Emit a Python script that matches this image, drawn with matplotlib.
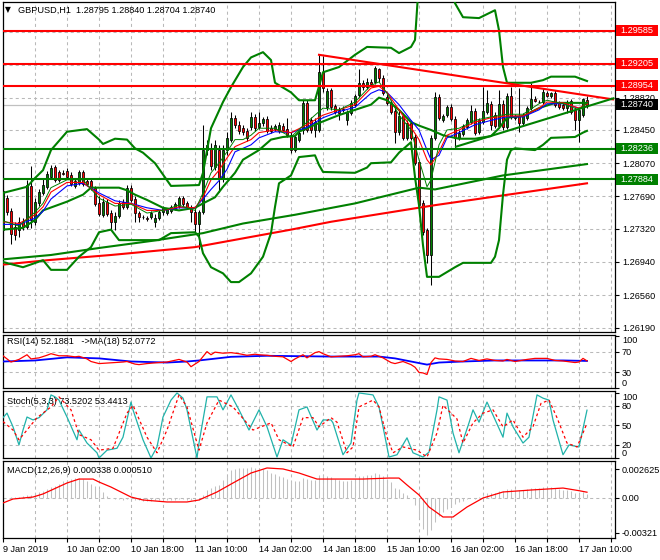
import matplotlib
matplotlib.use("Agg")
import matplotlib.pyplot as plt
import matplotlib.transforms as mtransforms
from matplotlib.patches import Rectangle

plt.rcParams['font.family'] = ['Liberation Sans', 'DejaVu Sans']
plt.rcParams['font.size'] = 6.6
plt.rcParams['lines.scale_dashes'] = False

# ---- GBPUSD H1 candles (bar index 0 = 9 Jan 10:00) ----
opens = [
    1.2731, 1.2767, 1.2752, 1.2734, 1.2731, 1.2740, 1.2734, 1.2781, 1.2740, 1.2761,
    1.2773, 1.2780, 1.2791, 1.2803, 1.2797, 1.2796, 1.2798, 1.2793, 1.2781, 1.2784,
    1.2797, 1.2787, 1.2787, 1.2779, 1.2761, 1.2748, 1.2763, 1.2750, 1.2740, 1.2747,
    1.2763, 1.2757, 1.2779, 1.2766, 1.2750, 1.2746, 1.2744, 1.2745, 1.2740, 1.2744,
    1.2751, 1.2750, 1.2752, 1.2756, 1.2758, 1.2767, 1.2761, 1.2757, 1.2751, 1.2737,
    1.2751, 1.2822, 1.2824, 1.2803, 1.2822, 1.2790, 1.2822, 1.2834, 1.2859, 1.2851,
    1.2847, 1.2844, 1.2848, 1.2860, 1.2848, 1.2853, 1.2858, 1.2847, 1.2846, 1.2844,
    1.2850, 1.2846, 1.2839, 1.2822, 1.2834, 1.2845, 1.2876, 1.2856, 1.2845, 1.2845,
    1.2911, 1.2871, 1.2891, 1.2872, 1.2868, 1.2869, 1.2856, 1.2864, 1.2874, 1.2885,
    1.2899, 1.2894, 1.2900, 1.2900, 1.2915, 1.2904, 1.2883, 1.2876, 1.2867, 1.2843,
    1.2861, 1.2836, 1.2853, 1.2837, 1.2808, 1.2761, 1.2731, 1.2702, 1.2836, 1.2883,
    1.2856, 1.2862, 1.2871, 1.2858, 1.2836, 1.2840, 1.2848, 1.2854, 1.2867, 1.2843,
    1.2854, 1.2866, 1.2875, 1.2862, 1.2850, 1.2875, 1.2848, 1.2884, 1.2859, 1.2861,
    1.2853, 1.2859, 1.2870, 1.2880, 1.2877, 1.2877, 1.2887, 1.2884, 1.2887, 1.2876,
    1.2874, 1.2870, 1.2878, 1.2868, 1.2856, 1.2862, 1.28795,
]
highs = [
    1.2781, 1.2771, 1.2756, 1.2740, 1.2745, 1.2744, 1.2788, 1.2804, 1.2767, 1.2777,
    1.2790, 1.2798, 1.2805, 1.2805, 1.2799, 1.2799, 1.2802, 1.2797, 1.2790, 1.2799,
    1.2799, 1.2790, 1.2789, 1.2781, 1.2769, 1.2767, 1.2766, 1.2753, 1.2751, 1.2765,
    1.2766, 1.2782, 1.2782, 1.2769, 1.2752, 1.2748, 1.2747, 1.2752, 1.2749, 1.2753,
    1.2758, 1.2756, 1.2759, 1.2763, 1.2769, 1.2769, 1.2764, 1.2759, 1.2756, 1.2753,
    1.2851, 1.2834, 1.2830, 1.2834, 1.2828, 1.2828, 1.2843, 1.2866, 1.2862, 1.2855,
    1.2851, 1.2847, 1.2866, 1.2863, 1.2866, 1.2860, 1.2861, 1.2851, 1.2852, 1.2854,
    1.2853, 1.2859, 1.2843, 1.2839, 1.2845, 1.2879, 1.2879, 1.2860, 1.2859, 1.2931,
    1.2930, 1.2893, 1.2893, 1.2875, 1.2871, 1.2872, 1.2868, 1.2879, 1.2886, 1.2915,
    1.2902, 1.2904, 1.2903, 1.2918, 1.2916, 1.2908, 1.2886, 1.2879, 1.2870, 1.2868,
    1.2864, 1.2856, 1.2856, 1.2840, 1.2811, 1.2765, 1.2733, 1.2839, 1.2888, 1.2886,
    1.2863, 1.2874, 1.2875, 1.2861, 1.2845, 1.2852, 1.2859, 1.2874, 1.2870, 1.2859,
    1.2894, 1.2891, 1.2878, 1.2866, 1.2891, 1.2879, 1.2887, 1.2894, 1.2863, 1.2893,
    1.2864, 1.2872, 1.2899, 1.2884, 1.2879, 1.2893, 1.2890, 1.2888, 1.2891, 1.2878,
    1.2876, 1.2879, 1.2880, 1.2871, 1.2870, 1.2882, 1.28840,
]
lows = [
    1.2721, 1.2748, 1.2715, 1.2719, 1.2723, 1.2731, 1.2732, 1.2733, 1.2736, 1.2758,
    1.2771, 1.2777, 1.2789, 1.2785, 1.2785, 1.2793, 1.2789, 1.2781, 1.2779, 1.2782,
    1.2781, 1.2781, 1.2776, 1.2758, 1.2747, 1.2745, 1.2747, 1.2731, 1.2731, 1.2744,
    1.2755, 1.2755, 1.2763, 1.2740, 1.2740, 1.2743, 1.2741, 1.2743, 1.2734, 1.2742,
    1.2748, 1.2748, 1.2750, 1.2753, 1.2756, 1.2758, 1.2755, 1.2740, 1.2728, 1.2709,
    1.2749, 1.2816, 1.2799, 1.2799, 1.2774, 1.2785, 1.2816, 1.2831, 1.2847, 1.2840,
    1.2839, 1.2832, 1.2845, 1.2844, 1.2846, 1.2850, 1.2842, 1.2842, 1.2844, 1.2842,
    1.2843, 1.2837, 1.2819, 1.2820, 1.2831, 1.2840, 1.2843, 1.2842, 1.2837, 1.2843,
    1.2888, 1.2868, 1.2868, 1.2863, 1.2856, 1.2866, 1.2851, 1.2862, 1.2871, 1.2883,
    1.2891, 1.2892, 1.2895, 1.2898, 1.2900, 1.2885, 1.2874, 1.2863, 1.2830, 1.2839,
    1.2834, 1.2834, 1.2834, 1.2805, 1.2757, 1.2725, 1.2693, 1.2668, 1.2834, 1.2856,
    1.2854, 1.2860, 1.2855, 1.2824, 1.2834, 1.2838, 1.2846, 1.2852, 1.2839, 1.2840,
    1.2852, 1.2863, 1.2845, 1.2847, 1.2847, 1.2845, 1.2846, 1.2858, 1.2856, 1.2843,
    1.2850, 1.2856, 1.2868, 1.2877, 1.2876, 1.2875, 1.2883, 1.2882, 1.2871, 1.2869,
    1.2868, 1.2864, 1.2863, 1.2845, 1.2831, 1.2860, 1.28704,
]
closes = [
    1.2775, 1.2751, 1.2726, 1.2725, 1.2740, 1.2734, 1.2782, 1.2742, 1.2763, 1.2774,
    1.2782, 1.2795, 1.2802, 1.2788, 1.2788, 1.2795, 1.2791, 1.2783, 1.2787, 1.2797,
    1.2783, 1.2783, 1.2779, 1.2760, 1.2749, 1.2763, 1.2749, 1.2740, 1.2747, 1.2761,
    1.2757, 1.2779, 1.2765, 1.2750, 1.2745, 1.2745, 1.2743, 1.2750, 1.2744, 1.2751,
    1.2756, 1.2755, 1.2757, 1.2760, 1.2767, 1.2760, 1.2757, 1.2751, 1.2737, 1.2751,
    1.2822, 1.2828, 1.2804, 1.2828, 1.2790, 1.2822, 1.2836, 1.2859, 1.2851, 1.2844,
    1.2843, 1.2836, 1.2860, 1.2847, 1.2853, 1.2858, 1.2844, 1.2844, 1.2850, 1.2851,
    1.2845, 1.2839, 1.2822, 1.2837, 1.2842, 1.2876, 1.2845, 1.2845, 1.2854, 1.2911,
    1.2893, 1.2890, 1.2871, 1.2866, 1.2864, 1.2868, 1.2866, 1.2876, 1.2884, 1.2899,
    1.2894, 1.2900, 1.2898, 1.2916, 1.2904, 1.2887, 1.2876, 1.2866, 1.2843, 1.2861,
    1.2836, 1.2853, 1.2836, 1.2807, 1.2759, 1.2728, 1.2702, 1.2836, 1.2883, 1.2859,
    1.2861, 1.2871, 1.2858, 1.2836, 1.2842, 1.2850, 1.2856, 1.2867, 1.2842, 1.2856,
    1.2867, 1.2876, 1.2851, 1.2850, 1.2875, 1.2848, 1.2884, 1.2860, 1.2861, 1.2853,
    1.2861, 1.2870, 1.2880, 1.2878, 1.2877, 1.2888, 1.2884, 1.2887, 1.2874, 1.2871,
    1.2870, 1.2877, 1.2866, 1.2856, 1.2868, 1.2880, 1.28740,
]

# ---- Bollinger bands ----
bb_up_bars = [0, 6, 8, 10, 12, 16, 21, 24, 25, 28, 31, 33, 35, 38, 42, 49, 50, 52, 55, 57,
              60, 62, 65, 67, 68, 72, 74, 78, 80, 84, 88, 91, 97, 99, 102, 103, 104, 112,
              113, 115, 119, 123, 124, 125, 126, 132, 135, 137, 143, 146]
bb_up = [1.2773, 1.2780, 1.2790, 1.2799, 1.2822, 1.2843, 1.2846, 1.2834, 1.2829, 1.2835,
         1.2834, 1.2824, 1.2819, 1.2807, 1.2781, 1.2782, 1.2796, 1.2847, 1.2877, 1.2894,
         1.2917, 1.2928, 1.2934, 1.2925, 1.2899, 1.2888, 1.2879, 1.2879, 1.2911, 1.2917,
         1.2931, 1.2940, 1.2939, 1.2933, 1.2940, 1.2948, 1.3017, 1.3017,
         1.2990, 1.2974, 1.2973, 1.2982, 1.2959, 1.2917, 1.2899, 1.2899, 1.2902, 1.2906,
         1.2906, 1.2901]
bb_lo_bars = [0, 5, 10, 12, 16, 19, 22, 24, 27, 29, 39, 42, 48, 49, 50, 52, 55, 57, 59, 62,
              65, 67, 68, 69, 72, 74, 78, 79, 80, 88, 91, 92, 97, 99, 102, 103, 104, 105,
              106, 109, 113, 115, 122, 123, 124, 125, 126, 127, 128, 133, 135, 137, 143,
              145, 146]
bb_lo = [1.2694, 1.2688, 1.2696, 1.2685, 1.2685, 1.2700, 1.2711, 1.2728, 1.2731, 1.2719,
         1.2719, 1.2727, 1.2728, 1.2723, 1.2704, 1.2688, 1.2681, 1.2671, 1.2671, 1.2681,
         1.2700, 1.2727, 1.2757, 1.2784, 1.2793, 1.2814, 1.2816, 1.2805, 1.2797, 1.2796,
         1.2802, 1.2807, 1.2808, 1.2819, 1.2831, 1.2791, 1.2759, 1.2713,
         1.2677, 1.2677, 1.2688, 1.2693, 1.2693, 1.2700, 1.2719, 1.2771, 1.2811, 1.2822,
         1.2824, 1.2822, 1.2828, 1.2836, 1.2837, 1.2842, 1.2844]
bb_mid_bars = [0, 5, 8, 10, 16, 20, 22, 29, 31, 33, 36, 40, 44, 48, 50, 53, 55, 58, 60, 64,
               67, 70, 73, 74, 79, 84, 88, 92, 94, 96, 99, 102, 104, 107, 110, 114, 118,
               122, 124, 126, 130, 134, 138, 142, 146]
bb_mid = [1.2731, 1.2733, 1.2742, 1.2753, 1.2763, 1.2771, 1.2779, 1.2779, 1.2776, 1.2771,
          1.2765, 1.2756, 1.2753, 1.2756, 1.2761, 1.2768, 1.2780, 1.2796, 1.2811, 1.2822,
          1.2834, 1.2837, 1.2838, 1.2843, 1.2853, 1.2862, 1.2868, 1.2874, 1.2882, 1.2879,
          1.2868, 1.2854, 1.2850, 1.2845, 1.2839, 1.2835, 1.2835,
          1.2838, 1.2847, 1.2859, 1.2861, 1.2870, 1.2876, 1.2876, 1.2876]

# ---- slow moving averages ----
ma_green_bars = [0, 12, 24, 37, 50, 60, 73, 88, 104, 108, 125, 146]
ma_green = [1.2697, 1.2702, 1.2710, 1.2718, 1.2727, 1.2738, 1.2748, 1.2761, 1.2779,
            1.2777, 1.2793, 1.2806]
ma_red_bars = [0, 11, 27, 48, 72, 82, 108, 146]
ma_red = [1.2691, 1.2696, 1.2702, 1.2711, 1.2731, 1.2740, 1.2759, 1.2784]

# ---- fast moving averages ----
fast_bars = [0, 4, 8, 10, 12, 16, 20, 24, 28, 32, 36, 40, 44, 48, 50, 52, 54, 56, 58, 60,
             62, 64, 68, 72, 76, 80, 84, 88, 92, 94, 96, 99, 102, 104, 106, 107, 109, 111,
             114, 118, 122, 126, 130, 134, 136, 140, 144, 146]
fast_red = [1.2740, 1.2738, 1.2748, 1.2757, 1.2774, 1.2785, 1.2785, 1.2771, 1.2761, 1.2761,
            1.2753, 1.2753, 1.2757, 1.2756, 1.2768, 1.2788, 1.2799, 1.2813, 1.2826, 1.2830,
            1.2834, 1.2842, 1.2845, 1.2842, 1.2851, 1.2862, 1.2868, 1.2874, 1.2893, 1.2895,
            1.2888, 1.2868, 1.2848, 1.2834, 1.2811, 1.2805, 1.2820, 1.2839,
            1.2845, 1.2854, 1.2859, 1.2861, 1.2861, 1.2870, 1.2877, 1.2876, 1.2870, 1.2875]
fast_blue = [1.2737, 1.2737, 1.2744, 1.2752, 1.2766, 1.2781, 1.2784, 1.2773, 1.2764, 1.2761,
             1.2756, 1.2753, 1.2756, 1.2756, 1.2766, 1.2777, 1.2787, 1.2800, 1.2820, 1.2824,
             1.2828, 1.2836, 1.2843, 1.2842, 1.2848, 1.2859, 1.2866, 1.2871, 1.2887, 1.2891,
             1.2888, 1.2874, 1.2856, 1.2845, 1.2822, 1.2811, 1.2816, 1.2836,
             1.2842, 1.2851, 1.2856, 1.2860, 1.2860, 1.2868, 1.2875, 1.2875, 1.2870, 1.2872]
fast_green = [1.2741, 1.2735, 1.2751, 1.2761, 1.2779, 1.2788, 1.2788, 1.2767, 1.2758, 1.2760,
              1.2750, 1.2753, 1.2759, 1.2753, 1.2773, 1.2796, 1.2807, 1.2820, 1.2834, 1.2834,
              1.2839, 1.2847, 1.2847, 1.2837, 1.2854, 1.2870, 1.2868, 1.2877, 1.2896, 1.2900,
              1.2887, 1.2862, 1.2845, 1.2811, 1.2780, 1.2788, 1.2828, 1.2845,
              1.2847, 1.2856, 1.2860, 1.2863, 1.2863, 1.2875, 1.2879, 1.2875, 1.2868, 1.2876]

# ---- chart objects ----
red_levels = [1.29585, 1.29205, 1.28954]
green_levels = [1.28236, 1.27884]
last_price = 1.28740
res_line_bars = [79, 152.5]
res_line = [1.2931, 1.2880]
sup_line_bars = [113.25, 152.6]
sup_line = [1.28259, 1.28812]
price_ticks = [1.26190, 1.26560, 1.26940, 1.27320, 1.27690, 1.28070, 1.28450, 1.28820,
               1.29190, 1.29570]
hidden_ticks = [1.29190, 1.29570]   # covered by the level boxes

# ---- RSI(14) and MA(18) ----
rsi_bars = [0, 2, 4, 6, 7, 9, 11, 12, 14, 16, 18, 19, 21, 22, 24, 26, 28, 30, 31, 33, 34,
            36, 39, 41, 44, 46, 47, 48, 49, 51, 52, 53, 55, 57, 59, 61, 63, 64, 66, 68, 70,
            72, 73, 75, 76, 78, 79, 80, 82, 84, 86, 88, 89, 90, 92, 93, 95, 97, 98, 100,
            101, 102, 103, 104, 105, 106, 107, 108, 109, 111, 113, 115, 117, 119, 121, 123,
            125, 126, 128, 131, 133, 136, 138, 140, 141, 143, 144, 145, 146]
rsi = [62, 50, 55, 64, 56, 58, 63, 66, 62, 62, 60, 61, 56, 51, 47, 48, 49, 50, 51, 46, 45,
       47, 49, 50, 55, 50, 41, 46, 51, 70, 64, 69, 67, 68, 66, 63, 65, 64, 63, 61, 60,
       51, 56, 64, 58, 68, 70, 66, 60, 61, 62, 64, 66, 60, 61, 64, 58, 49, 47, 51,
       48, 45, 40, 30, 29, 26, 49, 58, 56, 55, 52, 51, 57, 53, 56, 53,
       52, 55, 51, 55, 57, 57, 53, 52, 51, 49, 50, 57, 52.19]
rsi_ma_bars = [0, 8, 16, 24, 32, 41, 46, 49, 57, 66, 82, 94, 98, 102, 106, 109, 115, 123,
               131, 140, 146]
rsi_ma = [51, 53, 59, 57, 51, 49, 51, 53, 60, 62, 60.5, 60.5, 57, 51, 45, 49, 51, 53, 53,
          53, 52.08]

# ---- Stochastic(5,3,3) ----
k_bars = [0, 1, 2.5, 4, 5, 6, 7.5, 9, 11, 12, 13, 14, 16, 18.5, 19, 21, 23.5, 24, 26, 28.5,
          30, 32, 32.5, 35, 37, 38.5, 40, 42, 43.5, 45, 46, 48.5, 49, 51, 53.5, 55, 57, 59,
          61.5, 64, 66, 68.5, 70, 72, 74, 76, 78.5, 80, 82, 82.5, 85, 87, 88.5, 89, 92.5,
          94, 95, 96.5, 98.5, 101, 102.5, 105, 106.5, 108.5, 109, 111, 112.5, 114, 116.5,
          117.5, 119, 121, 122.5, 125, 126, 127.5, 130, 131.5, 133.5, 135, 136.5, 137.5,
          140, 141.5, 144, 146]
stoch_k = [62, 69, 48, 20, 43, 63, 58.5, 62, 74, 97, 94, 89, 63, 28, 43, 23, 8, 0, 12, 15,
           32, 86, 74, 28, 0, 17, 63, 89, 100, 92, 74, 0, 23, 94, 94, 74, 97, 74,
           43, 74, 48, 1.5, 28, 20, 74, 78.5, 43, 58.5, 58.5, 54, 5, 23, 89, 100, 97,
           78.5, 48, 1.5, 5, 31, 8, 1.5, 9, 74, 94, 89, 38.5, 8, 54,
           74, 55, 86, 66, 32, 69, 48, 23, 32, 97, 92, 89, 58.5,
           5, 20, 17, 73.52]
d_bars = [0, 2.5, 4, 6, 8.5, 12, 14, 17, 19, 22, 24, 27.5, 31, 32.5, 36, 38.5, 41, 44, 46,
          49, 51, 54, 57.5, 62.5, 67, 69, 72.5, 75, 77.5, 79, 82, 83.5, 86, 87.5, 89, 92.5,
          94, 96, 97.5, 100, 103.5, 106, 108.5, 110, 113.5, 115, 117.5, 120, 122.5, 125,
          127.5, 130, 132.5, 134.5, 136.5, 138.5, 141, 143.5, 145, 146]
stoch_d = [56, 43, 28, 43, 62, 78.5, 94, 74, 36, 28, 12, 15, 69, 81, 32, 8, 43, 97, 78.5,
           12, 54, 89, 78.5, 43, 54, 28, 17, 62, 62, 48, 62, 55, 8, 17, 78.5, 89,
           78.5, 32, 8, 17, 12, 1.5, 38.5, 81, 60, 23, 54, 69, 74, 48,
           58.5, 32, 48, 84, 89, 62, 23, 17, 38.5, 53.44]

# ---- MACD(12,26,9) ----
macd_main = [
    0.0000, 0.0000, 0.0001, 0.0001, 0.0001, 0.0002, 0.0003, 0.0003, 0.0004, 0.0005,
    0.0006, 0.0008, 0.0010, 0.0011, 0.0013, 0.0015, 0.0016, 0.0017, 0.0018, 0.0018,
    0.0017, 0.0015, 0.0013, 0.0011, 0.0008, 0.0005, 0.0002, 0.0000, -0.0001, -0.0001,
    -0.0002, -0.0001, -0.0001, -0.0002, -0.0002, -0.0003, -0.0003, -0.0003, -0.0002, -0.0002,
    -0.0002, -0.0002, -0.0002, -0.0002, -0.0001, -0.0001, -0.0002, -0.0002, -0.0003, -0.0002,
    0.0003, 0.0007, 0.0009, 0.0011, 0.0012, 0.0016, 0.0020, 0.0025, 0.0026, 0.0027,
    0.0027, 0.0027, 0.0028, 0.0027, 0.0027, 0.0026, 0.0025, 0.0023, 0.0022, 0.0020,
    0.0019, 0.0017, 0.0015, 0.0015, 0.0015, 0.0018, 0.0017, 0.0016, 0.0016, 0.0021,
    0.0021, 0.0020, 0.0019, 0.0017, 0.0016, 0.0015, 0.0015, 0.0016, 0.0017, 0.0020,
    0.0020, 0.0021, 0.0021, 0.0023, 0.0022, 0.0020, 0.0017, 0.0014, 0.0009, 0.0008,
    0.0004, 0.0003, 0.0000, -0.0007, -0.0018, -0.0028, -0.0034, -0.0029, -0.0022, -0.0017,
    -0.0013, -0.0010, -0.0008, -0.0006, -0.0004, -0.0003, -0.0001, 0.0000, -0.0001, 0.0001,
    0.0002, 0.0004, 0.0004, 0.0004, 0.0006, 0.0006, 0.0008, 0.0008, 0.0007, 0.0007,
    0.0007, 0.0008, 0.0009, 0.0009, 0.0009, 0.0010, 0.0010, 0.0010, 0.0009, 0.0008,
    0.0007, 0.0007, 0.0006, 0.0004, 0.0004, 0.0005, 0.000338,
]
sig_bars = [0, 2.5, 7.5, 10, 16, 19, 22.5, 24, 27, 32, 35, 41, 46, 49, 53.5, 57.5, 62, 66,
            70, 74, 78.5, 90, 96.5, 99, 101, 104, 106.5, 110, 112.5, 116, 120, 125, 132,
            140, 144, 146]
macd_signal = [-0.00047, -0.00011, 0.00007, 0.00035, 0.00135, 0.00171, 0.00171, 0.00144,
               0.00098, 0.00007, -0.0002, -0.00038, -0.00038, -0.0002, 0.00053, 0.00135,
               0.00226, 0.00272, 0.00263, 0.00226, 0.00171, 0.00171, 0.0018, 0.0018,
               0.00117, 0.00026, -0.00084, -0.00175, -0.00175, -0.00084, -0.00002, 0.00053,
               0.00071, 0.00089, 0.00065, 0.00051]

date_labels = ['9 Jan 2019', '10 Jan 02:00', '10 Jan 18:00', '11 Jan 10:00', '14 Jan 02:00',
               '14 Jan 18:00', '15 Jan 10:00', '16 Jan 02:00', '16 Jan 18:00', '17 Jan 10:00']

BULL = '#008000'
BEAR = '#ff0000'
GRID = '#b9b9b9'
DASH = (0, (2.2, 2.2))

W, H = 660.0, 560.0
fig = plt.figure(figsize=(6.6, 5.6), dpi=100)


def px_rect(x0, y0, x1, y1):
    return [x0 / W, 1 - y1 / H, (x1 - x0) / W, (y1 - y0) / H]


ax = fig.add_axes(px_rect(2.5, 2, 615, 332))
ax_rsi = fig.add_axes(px_rect(2.5, 335, 615, 388))
ax_sto = fig.add_axes(px_rect(2.5, 391, 615, 458))
ax_macd = fig.add_axes(px_rect(2.5, 461, 615, 538))
panels = [ax, ax_rsi, ax_sto, ax_macd]

grid_bars = list(range(0, 153, 8))
for a in panels:
    a.set_xlim(-0.125, 153.0)
    a.set_xticks(grid_bars)
    a.yaxis.tick_right()
    a.tick_params(axis='y', length=3, width=0.8, pad=2, labelsize=6.6, colors='black')
    a.tick_params(axis='x', length=0, labelbottom=False)
    a.xaxis.grid(True, color=GRID, linestyle=DASH, linewidth=0.75)
    a.set_axisbelow(True)
    for s in a.spines.values():
        s.set_color('black')
        s.set_linewidth(0.9)

# ---------- main price panel ----------
ax.set_ylim(1.26139, 1.29914)
ax.set_yticks(price_ticks)
ax.set_yticklabels(['' if v in hidden_ticks else '%.5f' % v for v in price_ticks])
ax.yaxis.grid(True, color=GRID, linestyle=DASH, linewidth=0.75)

ax.axhline(last_price, color='#c0c0c0', linewidth=0.9, zorder=1.5)

idx = list(range(len(closes)))
body_lo = [min(o, c) for o, c in zip(opens, closes)]
body_h = [abs(c - o) for o, c in zip(opens, closes)]
body_col = [BULL if c >= o else BEAR for o, c in zip(opens, closes)]
ax.vlines(idx, lows, highs, color='black', linewidth=0.75, zorder=3)
ax.bar(idx, body_h, bottom=body_lo, width=0.72, color=body_col, edgecolor='black',
       linewidth=0.55, zorder=3.5)

ax.plot(ma_red_bars, ma_red, color='#ff0000', linewidth=1.5, zorder=4)
ax.plot(ma_green_bars, ma_green, color=BULL, linewidth=1.5, zorder=4)
ax.plot(bb_up_bars, bb_up, color=BULL, linewidth=1.5, zorder=4)
ax.plot(bb_lo_bars, bb_lo, color=BULL, linewidth=1.5, zorder=4)
ax.plot(bb_mid_bars, bb_mid, color=BULL, linewidth=1.5, zorder=4)
ax.plot(fast_bars, fast_blue, color='#0000ff', linewidth=0.8, zorder=4.2)
ax.plot(fast_bars, fast_red, color='#ff0000', linewidth=0.8, zorder=4.3)
ax.plot(fast_bars, fast_green, color=BULL, linewidth=0.7, zorder=4.4)

for lv in red_levels:
    ax.axhline(lv, color='#ff0000', linewidth=1.5, zorder=5)
for lv in green_levels:
    ax.axhline(lv, color=BULL, linewidth=1.5, zorder=5)
ax.plot(res_line_bars, res_line, color='#ff0000', linewidth=1.5, zorder=5)
ax.plot(sup_line_bars, sup_line, color=BULL, linewidth=1.5, zorder=5)

blend = mtransforms.blended_transform_factory(ax.transAxes, ax.transData)
box_h = 11 * (1.29914 - 1.26139) / 330.0
for lv, col in ([(v, '#ff0000') for v in red_levels] + [(v, BULL) for v in green_levels]
                + [(last_price, 'black')]):
    ax.add_patch(Rectangle((1.0016, lv - box_h / 2), 0.0694, box_h, transform=blend,
                           facecolor=col, edgecolor='none', clip_on=False, zorder=6))
    ax.text(1.009, lv, '%.5f' % lv, transform=blend, color='white', ha='left',
            va='center', zorder=7, clip_on=False)

ax.text(0.0095, 0.976, '\u25bc', transform=ax.transAxes, fontsize=5.5, ha='center',
        va='center', family=['DejaVu Sans'])
ax.text(0.0253, 0.976, 'GBPUSD,H1  1.28795 1.28840 1.28704 1.28740', transform=ax.transAxes,
        ha='left', va='center')

# ---------- RSI ----------
ax_rsi.set_ylim(0, 102)
ax_rsi.set_yticks([0, 30, 70, 100])
ax_rsi.set_yticklabels(['0', '30', '70', '100'])
labs = ax_rsi.get_yticklabels()
labs[0].set_va('bottom')
labs[-1].set_va('top')
for lv in (30, 70):
    ax_rsi.axhline(lv, color=GRID, linestyle=DASH, linewidth=0.75, zorder=1)
ax_rsi.plot(rsi_ma_bars, rsi_ma, color='#0000ff', linewidth=1.3, zorder=3)
ax_rsi.plot(rsi_bars, rsi, color='#ff0000', linewidth=0.9, zorder=4)
ax_rsi.text(0.0073, 0.87, 'RSI(14) 52.1881   ->MA(18) 52.0772', transform=ax_rsi.transAxes,
            ha='left', va='center')

# ---------- Stochastic ----------
ax_sto.set_ylim(0, 103)
ax_sto.set_yticks([0, 20, 50, 80, 100])
ax_sto.set_yticklabels(['0', '20', '50', '80', '100'])
labs = ax_sto.get_yticklabels()
labs[0].set_va('bottom')
labs[-1].set_va('top')
for lv in (20, 50, 80):
    ax_sto.axhline(lv, color=GRID, linestyle=DASH, linewidth=0.75, zorder=1)
ax_sto.plot(k_bars, stoch_k, color='#20b2aa', linewidth=0.9, zorder=3)
ax_sto.plot(d_bars, stoch_d, color='#ff0000', linewidth=0.9, linestyle=(0, (2, 2)), zorder=4)
ax_sto.text(0.0073, 0.85, 'Stoch(5,3,3) 73.5202 53.4413', transform=ax_sto.transAxes,
            ha='left', va='center')

# ---------- MACD ----------
ax_macd.set_ylim(-0.003666, 0.003356)
ax_macd.set_yticks([-0.00321, 0.0, 0.002625])
ax_macd.set_yticklabels(['-0.00321', '0.00', '0.002625'])
ax_macd.axhline(0, color=GRID, linestyle=DASH, linewidth=0.75, zorder=1)
ax_macd.vlines(idx, 0, macd_main, color='#c0c0c0', linewidth=0.75, zorder=2)
ax_macd.plot(sig_bars, macd_signal, color='#ff0000', linewidth=0.9, zorder=3)
ax_macd.text(0.0073, 0.883, 'MACD(12,26,9) 0.000338 0.000510', transform=ax_macd.transAxes,
             ha='left', va='center')

ax_macd.tick_params(axis='x', length=3, width=0.8, pad=2, labelbottom=True, labelsize=6.6)
xlabels = []
for b in grid_bars:
    xlabels.append(date_labels[b // 16] if b % 16 == 0 and b // 16 < len(date_labels) else '')
ax_macd.set_xticklabels(xlabels)
for t in ax_macd.get_xticklabels():
    t.set_ha('left')

fig.savefig('out.png', dpi=100, facecolor='white')
